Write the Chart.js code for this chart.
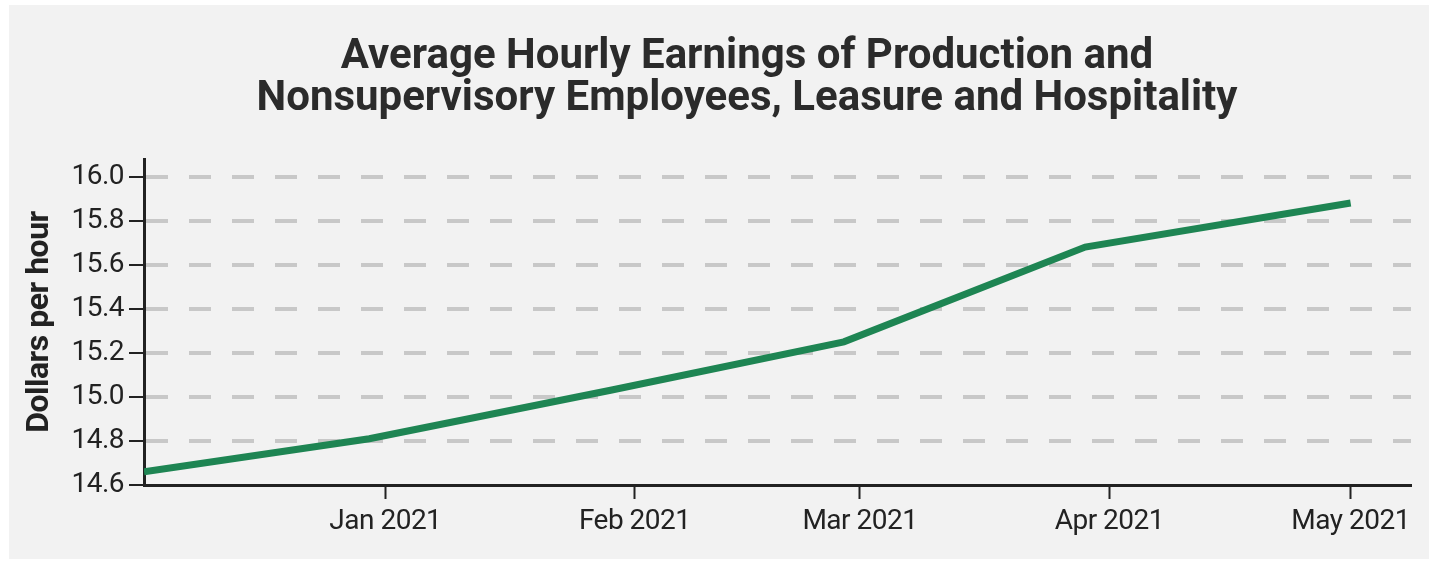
<!DOCTYPE html>
<html>
<head>
<meta charset="utf-8">
<script src="https://cdn.jsdelivr.net/npm/chart.js@4.4.1/dist/chart.umd.min.js"></script>
<style>
  body { margin: 0; background: #fff; }
  #panel { position: absolute; left: 9px; top: 5px; width: 1420px; height: 554px; background: #f2f2f2; }
</style>
</head>
<body>
<div id="panel"><canvas id="earningsChart" width="1420" height="554"></canvas></div>
<script>
// Values
const dates = ['2020-12-02', '2020-12-30', '2021-01-29', '2021-02-27', '2021-03-29', '2021-05-01'];
const earnings = [14.66, 14.81, 15.03, 15.25, 15.68, 15.88];

const monthTicks = ['2021-01-01', '2021-02-01', '2021-03-01', '2021-04-01', '2021-05-01'];
const monthLabels = ['Jan 2021', 'Feb 2021', 'Mar 2021', 'Apr 2021', 'May 2021'];
const yTicks = [14.6, 14.8, 15.0, 15.2, 15.4, 15.6, 15.8, 16.0];

const titleLines = ['Average Hourly Earnings of Production and', 'Nonsupervisory Employees, Leasure and Hospitality'];
const yTitle = 'Dollars per hour';

// days counted from 1 Jan 2021
const dayOf = s => (Date.parse(s) - Date.parse('2021-01-01')) / 86400000;

const ink = '#222222';

// two line title, centred a bit left of the plot like the original
const titlePlugin = {
    id: 'twoLineTitle',
    beforeDraw(chart) {
        chart.ctx.letterSpacing = '-0.5px';
    },
    afterDraw(chart) {
        const ctx = chart.ctx;
        ctx.save();
        ctx.font = 'bold 42px Roboto';
        ctx.letterSpacing = '0px';
        ctx.fillStyle = '#2b2b2b';
        ctx.textAlign = 'center';
        ctx.textBaseline = 'alphabetic';
        ctx.fillText(titleLines[0], 738, 63);
        ctx.fillText(titleLines[1], 738, 105);
        ctx.restore();
    }
};

const ctx = document.getElementById('earningsChart').getContext('2d');
new Chart(ctx, {
    type: 'line',
    data: {
        datasets: [{
            data: dates.map((d, i) => ({ x: dayOf(d), y: earnings[i] })),
            borderColor: '#1e8553',
            borderWidth: 7,
            pointRadius: 0,
            tension: 0,
            fill: false
        }]
    },
    options: {
        responsive: false,
        animation: false,
        layout: { padding: { top: 154, left: 0, right: 18, bottom: 0 } },
        plugins: {
            legend: { display: false },
            tooltip: { enabled: false },
            title: { display: false }
        },
        scales: {
            x: {
                type: 'linear',
                min: dayOf(dates[0]),
                max: 127.5,
                afterBuildTicks: s => { s.ticks = monthTicks.map(d => ({ value: dayOf(d) })); },
                afterFit: s => { s.height = 74; },
                ticks: {
                    callback: (v, i) => monthLabels[i],
                    color: ink,
                    font: { family: 'Roboto', size: 28 },
                    padding: 6,
                    maxRotation: 0,
                    autoSkip: false
                },
                grid: { drawOnChartArea: false, tickLength: 14, tickWidth: 2, tickColor: ink },
                border: { color: ink, width: 3, z: 1 }
            },
            y: {
                min: 14.6,
                max: 16.08,
                afterBuildTicks: s => { s.ticks = yTicks.map(v => ({ value: v })); },
                afterFit: s => { s.width = 135; },
                ticks: {
                    callback: v => v.toFixed(1),
                    color: ink,
                    font: { family: 'Roboto', size: 28 },
                    padding: 5
                },
                grid: {
                    color: c => (c.tick && c.tick.value === 14.6) ? 'rgba(0,0,0,0)' : '#c8c8c8',
                    lineWidth: 4,
                    tickLength: 15,
                    tickWidth: 2,
                    tickColor: ink
                },
                border: { color: ink, width: 3, dash: [22, 21] },
                title: {
                    display: true,
                    text: yTitle,
                    color: ink,
                    font: { family: 'Roboto', size: 32, weight: 'bold' },
                    padding: { top: 12, bottom: 0 }
                }
            }
        }
    },
    plugins: [titlePlugin]
});
</script>
</body>
</html>
